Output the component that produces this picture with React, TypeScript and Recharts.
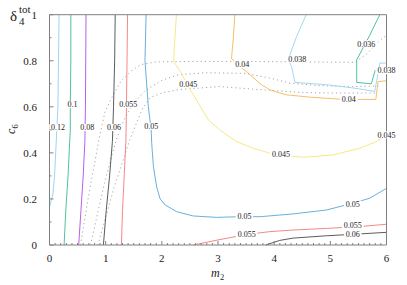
import { ComposedChart, Line, Scatter, XAxis, YAxis } from "recharts";

if (typeof document !== "undefined") document.body.style.margin = "0";

const SERIF = "'Liberation Serif', 'DejaVu Serif', serif";
const FRAME = "#808080";

// contour lines, [m2, c6] pairs
const c012 = [[0.17, 1], [0.16, 0.8], [0.15, 0.6], [0.13, 0.5], [0.11, 0.4], [0.09, 0.3], [0.06, 0.22], [0, 0.165]];
const c010 = [[0.38, 1], [0.38, 0.8], [0.37, 0.6], [0.37, 0.5], [0.33, 0.3], [0.29, 0.15], [0.26, 0]];
const c008 = [[0.65, 1], [0.64, 0.6], [0.63, 0.45], [0.6, 0.3], [0.56, 0.15], [0.52, 0]];
const c006a = [[1.17, 1], [1.16, 0.8], [1.14, 0.6], [1.12, 0.45], [1.07, 0.3], [1.01, 0.15], [0.96, 0]];
const c006b = [[3.85, 0], [4.1, 0.02], [4.34, 0.03], [4.93, 0.04], [5.52, 0.048], [6, 0.055]];
const c0055a = [[1.39, 1], [1.38, 0.8], [1.37, 0.6], [1.36, 0.45], [1.33, 0.3], [1.3, 0.15], [1.28, 0]];
const c0055b = [[2.56, 0], [3.0, 0.022], [3.5, 0.045], [3.92, 0.058], [4.34, 0.065], [4.93, 0.072], [5.52, 0.08], [6, 0.09]];
const c005 = [
  [1.72, 1], [1.7, 0.8], [1.73, 0.7], [1.76, 0.6], [1.81, 0.5], [1.82, 0.44], [1.85, 0.34], [1.91, 0.25],
  [1.97, 0.2], [2.06, 0.174], [2.26, 0.145], [2.56, 0.126], [2.97, 0.12], [3.39, 0.123], [3.75, 0.123],
  [4.34, 0.135], [4.93, 0.152], [5.35, 0.178], [5.7, 0.203], [6, 0.246],
];
const c0045 = [
  [2.26, 1], [2.23, 0.89], [2.21, 0.797], [2.35, 0.746], [2.47, 0.688], [2.65, 0.616], [2.83, 0.543],
  [3.03, 0.5], [3.33, 0.449], [3.63, 0.42], [3.92, 0.399], [4.12, 0.39], [4.52, 0.381], [5.05, 0.391],
  [5.52, 0.42], [5.82, 0.449], [6, 0.478],
];
const c004 = [
  [3.3, 1], [3.27, 0.89], [3.24, 0.81], [3.35, 0.78], [3.51, 0.753], [3.75, 0.7], [3.92, 0.674],
  [4.1, 0.66], [4.22, 0.652], [4.64, 0.642], [5.23, 0.632], [5.81, 0.632], [5.85, 0.71], [6, 0.713],
];
const c0038 = [
  [4.57, 1], [4.4, 0.906], [4.28, 0.826], [4.26, 0.8], [4.31, 0.775], [4.37, 0.706], [4.93, 0.696],
  [5.4, 0.682], [5.79, 0.667], [5.85, 0.746], [5.88, 0.79], [6, 0.79],
];
const c0036 = [[5.88, 1], [5.7, 0.91], [5.47, 0.804], [5.47, 0.706], [5.73, 0.7], [5.8, 0.76]];

// dotted constraint curves
const dot1 = [
  [0.55, 0], [0.62, 0.1], [0.7, 0.22], [0.8, 0.35], [0.88, 0.46], [0.99, 0.58], [1.13, 0.65], [1.28, 0.715],
  [1.45, 0.755], [1.62, 0.783], [1.9, 0.795], [2.5, 0.797], [3.5, 0.797], [4.5, 0.795], [5.44, 0.793],
  [5.65, 0.83], [5.88, 0.888], [6, 0.91],
];
const dot2 = [
  [0.73, 0], [0.85, 0.13], [0.98, 0.27], [1.1, 0.38], [1.19, 0.457], [1.32, 0.54], [1.48, 0.61], [1.7, 0.67],
  [2.0, 0.715], [2.3, 0.74], [2.8, 0.748], [3.5, 0.745], [3.92, 0.725], [4.28, 0.703], [4.8, 0.692],
  [5.4, 0.688], [5.9, 0.69],
];
const dot3 = [
  [0.86, 0], [1.0, 0.12], [1.15, 0.25], [1.3, 0.36], [1.43, 0.457], [1.55, 0.53], [1.66, 0.594], [1.79, 0.64],
  [2.0, 0.66], [2.3, 0.675], [3.03, 0.688], [3.62, 0.677], [3.92, 0.672], [4.51, 0.662], [5.0, 0.66], [5.83, 0.66],
];

// contour labels: [m2, c6, text]
const labels: [number, number, string][] = [
  [0.15, 0.51, "0.12"], [0.41, 0.61, "0.1"], [0.67, 0.51, "0.08"], [1.15, 0.51, "0.06"],
  [1.4, 0.61, "0.055"], [1.81, 0.515, "0.05"], [2.47, 0.7, "0.045"], [3.43, 0.783, "0.04"],
  [4.41, 0.807, "0.038"], [5.64, 0.874, "0.036"], [6, 0.757, "0.038"], [5.33, 0.633, "0.04"],
  [4.12, 0.396, "0.045"], [6, 0.478, "0.045"], [3.47, 0.127, "0.05"], [5.4, 0.178, "0.05"],
  [3.51, 0.048, "0.055"], [5.4, 0.086, "0.055"], [5.4, 0.047, "0.06"],
];

const xTicks = Array.from({ length: 61 }, (_, i) => i / 10);
const yTicks = Array.from({ length: 11 }, (_, i) => i / 10);

const toPts = (a: number[][]) => a.map(([x, y]) => ({ x, y }));

const series = [
  { d: c012, c: "#8fd0f2" },
  { d: c010, c: "#3dbb8e" },
  { d: c008, c: "#b04ee6" },
  { d: c006a, c: "#4a4a4a" },
  { d: c006b, c: "#4a4a4a" },
  { d: c0055a, c: "#f07a78" },
  { d: c0055b, c: "#f07a78" },
  { d: c005, c: "#56a8d8" },
  { d: c0045, c: "#f3e57a" },
  { d: c004, c: "#f3b85a" },
  { d: c0038, c: "#98d2f0" },
  { d: c0036, c: "#3cb89a" },
];
const dotted = [dot1, dot2, dot3];

const labelPts = labels.map(([x, y, t]) => ({ x, y, t }));

const isMajorX = (v: number) => Math.abs(v - Math.round(v)) < 1e-6;
const isMajorY = (v: number) => Math.abs(v * 5 - Math.round(v * 5)) < 1e-6;

function BottomTick(p: any) {
  const v = p.payload.value;
  const m = isMajorX(v);
  return (
    <g>
      <line x1={p.x} x2={p.x} y1={p.y} y2={p.y - (m ? 4 : 2)} stroke={FRAME} />
      {m && (
        <text x={p.x} y={p.y + 17} textAnchor="middle" fontSize={11} fontFamily={SERIF} fill="#222">
          {String(Math.round(v))}
        </text>
      )}
    </g>
  );
}

function TopTick(p: any) {
  const m = isMajorX(p.payload.value);
  return <line x1={p.x} x2={p.x} y1={p.y} y2={p.y + (m ? 4 : 2)} stroke={FRAME} />;
}

function LeftTick(p: any) {
  const v = p.payload.value;
  const m = isMajorY(v);
  return (
    <g>
      <line x1={p.x} x2={p.x + (m ? 4 : 2)} y1={p.y} y2={p.y} stroke={FRAME} />
      {m && (
        <text x={p.x - 12.5} y={p.y + 4} textAnchor="end" fontSize={11} fontFamily={SERIF} fill="#222">
          {String(v)}
        </text>
      )}
    </g>
  );
}

function RightTick(p: any) {
  const m = isMajorY(p.payload.value);
  return <line x1={p.x} x2={p.x - (m ? 4 : 2)} y1={p.y} y2={p.y} stroke={FRAME} />;
}

function LabelShape(p: any) {
  const { cx, cy, payload } = p;
  const w = payload.t.length * 4.1 + 1;
  return (
    <g>
      <rect x={cx - w / 2} y={cy - 3.5} width={w} height={7} fill="#fff" />
      <text x={cx} y={cy + 2.8} textAnchor="middle" fontSize={8} fontFamily={SERIF} fill="#222">
        {payload.t}
      </text>
    </g>
  );
}

export default function App() {
  return (
    <div style={{ position: "relative", width: 407, height: 285, background: "#fff" }}>
      <ComposedChart width={407} height={285} margin={{ top: 13.7, right: 19.5, bottom: 0, left: 0 }}>
        <XAxis
          dataKey="x"
          type="number"
          domain={[0, 6]}
          ticks={xTicks}
          interval={0}
          height={40}
          tickSize={0}
          tickMargin={0}
          tickLine={false}
          axisLine={{ stroke: FRAME }}
          tick={BottomTick}
        />
        <XAxis
          xAxisId="top"
          orientation="top"
          type="number"
          domain={[0, 6]}
          ticks={xTicks}
          interval={0}
          height={1}
          tickSize={0}
          tickMargin={0}
          tickLine={false}
          axisLine={{ stroke: FRAME }}
          tick={TopTick}
        />
        <YAxis
          dataKey="y"
          type="number"
          domain={[0, 1]}
          ticks={yTicks}
          interval={0}
          width={49.5}
          tickSize={0}
          tickMargin={0}
          tickLine={false}
          axisLine={{ stroke: FRAME }}
          tick={LeftTick}
        />
        <YAxis
          yAxisId="right"
          orientation="right"
          type="number"
          domain={[0, 1]}
          ticks={yTicks}
          interval={0}
          width={1}
          tickSize={0}
          tickMargin={0}
          tickLine={false}
          axisLine={{ stroke: FRAME }}
          tick={RightTick}
        />
        {dotted.map((d, i) => (
          <Line
            key={"d" + i}
            data={toPts(d)}
            dataKey="y"
            type="linear"
            stroke="#a8a8a8"
            strokeWidth={1}
            strokeDasharray="1.2 3"
            dot={false}
            isAnimationActive={false}
          />
        ))}
        {series.map((s, i) => (
          <Line
            key={"s" + i}
            data={toPts(s.d)}
            dataKey="y"
            type="linear"
            stroke={s.c}
            strokeWidth={0.9}
            dot={false}
            isAnimationActive={false}
          />
        ))}
        <Scatter data={labelPts} dataKey="y" shape={LabelShape} isAnimationActive={false} />
      </ComposedChart>
      <svg
        width={407}
        height={285}
        style={{ position: "absolute", left: 0, top: 0, pointerEvents: "none" }}
      >
        <text x={10} y={21} fontSize={15} fontFamily={SERIF} fill="#222">δ</text>
        <text x={19} y={13} fontSize={11} fontFamily={SERIF} fill="#222">tot</text>
        <text x={19} y={25} fontSize={11} fontFamily={SERIF} fill="#222">4</text>
        <text x={211} y={277} fontSize={12} fontFamily={SERIF} fontStyle="italic" fill="#222">m</text>
        <text x={220} y={280} fontSize={8.5} fontFamily={SERIF} fill="#222">2</text>
        <g transform="translate(15,134) rotate(-90)">
          <text x={0} y={0} fontSize={12} fontFamily={SERIF} fontStyle="italic" fill="#222">c</text>
          <text x={5.5} y={3} fontSize={8.5} fontFamily={SERIF} fill="#222">6</text>
        </g>
      </svg>
    </div>
  );
}
